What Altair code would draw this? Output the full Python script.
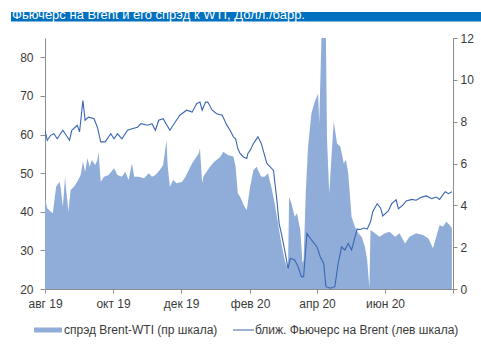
import altair as alt
import pandas as pd

# ---------------- data ----------------
brent_dates = [
    "2019-08-01", "2019-08-03", "2019-08-06", "2019-08-09", "2019-08-12", "2019-08-17",
    "2019-08-20", "2019-08-23", "2019-08-25", "2019-08-30", "2019-09-01", "2019-09-04",
    "2019-09-06", "2019-09-09", "2019-09-14", "2019-09-17", "2019-09-20", "2019-09-24",
    "2019-09-29", "2019-10-02", "2019-10-05", "2019-10-09", "2019-10-14", "2019-10-18",
    "2019-10-23", "2019-10-26", "2019-11-01", "2019-11-05", "2019-11-08", "2019-11-11",
    "2019-11-15", "2019-11-21", "2019-11-26", "2019-11-30", "2019-12-06", "2019-12-11",
    "2019-12-15", "2019-12-18", "2019-12-20", "2019-12-23", "2019-12-25", "2019-12-29",
    "2020-01-02", "2020-01-07", "2020-01-11", "2020-01-14", "2020-01-17", "2020-01-19",
    "2020-01-21", "2020-01-23", "2020-01-26", "2020-01-29", "2020-01-30", "2020-02-01",
    "2020-02-04", "2020-02-05", "2020-02-08", "2020-02-11", "2020-02-16", "2020-02-19",
    "2020-02-22", "2020-02-25", "2020-02-27", "2020-02-29", "2020-03-03", "2020-03-06",
    "2020-03-08", "2020-03-12", "2020-03-15", "2020-03-18", "2020-03-20", "2020-03-23",
    "2020-03-27", "2020-04-01", "2020-04-04", "2020-04-07", "2020-04-09", "2020-04-13",
    "2020-04-17", "2020-04-20", "2020-04-23", "2020-04-26", "2020-04-29", "2020-05-02",
    "2020-05-07", "2020-05-10", "2020-05-13", "2020-05-16", "2020-05-19", "2020-05-21",
    "2020-05-25", "2020-05-28", "2020-05-30", "2020-06-04", "2020-06-07", "2020-06-11",
    "2020-06-13", "2020-06-17", "2020-06-20", "2020-06-25", "2020-06-29", "2020-07-04",
    "2020-07-08", "2020-07-13", "2020-07-17", "2020-07-20", "2020-07-25", "2020-07-28",
    "2020-07-31",
]
brent_values = [
    61.1, 58.5, 59.8, 60.2, 58.9, 61.1,
    59.8, 58.5, 61.1, 62.4, 60.7, 68.8,
    63.7, 64.5, 64.1, 61.9, 58.1, 58.1,
    60.2, 58.9, 60.2, 58.9, 61.1, 61.5,
    61.9, 62.8, 62.4, 62.8, 61.1, 63.7,
    64.1, 61.1, 63.3, 65.0, 66.3, 65.8,
    68.0, 68.4, 66.3, 68.4, 68.4, 66.3,
    65.4, 65.0, 62.5, 61.1, 59.4, 58.9,
    56.3, 55.1, 54.2, 53.8, 55.1, 55.9,
    57.7, 58.1, 59.4, 57.7, 52.5, 51.6,
    50.7, 43.0, 37.0, 34.4, 30.1, 25.3,
    27.9, 27.5, 25.8, 23.2, 23.2, 34.4,
    32.7, 30.9, 28.3, 26.6, 20.6, 20.2,
    20.6, 26.6, 30.9, 30.1, 31.8, 30.1,
    35.5, 35.4, 35.8, 35.5, 37.4, 40.0,
    42.1, 41.0, 38.9, 40.2, 42.1, 43.1,
    40.8, 41.7, 42.8, 43.2, 43.0, 43.8,
    44.1, 43.4, 43.8, 43.2, 45.2, 44.7,
    45.2,
]

spread_dates = [
    "2019-08-01", "2019-08-03", "2019-08-06", "2019-08-08", "2019-08-11", "2019-08-14",
    "2019-08-15", "2019-08-17", "2019-08-19", "2019-08-20", "2019-08-22", "2019-08-24",
    "2019-08-27", "2019-08-30", "2019-09-02", "2019-09-04", "2019-09-06", "2019-09-08",
    "2019-09-10", "2019-09-12", "2019-09-15", "2019-09-17", "2019-09-18", "2019-09-20",
    "2019-09-23", "2019-09-27", "2019-10-02", "2019-10-05", "2019-10-09", "2019-10-12",
    "2019-10-15", "2019-10-18", "2019-10-20", "2019-10-24", "2019-10-29", "2019-11-02",
    "2019-11-05", "2019-11-08", "2019-11-12", "2019-11-15", "2019-11-18", "2019-11-19",
    "2019-11-21", "2019-11-24", "2019-11-27", "2019-12-02", "2019-12-05", "2019-12-08",
    "2019-12-11", "2019-12-14", "2019-12-17", "2019-12-18", "2019-12-20", "2019-12-21",
    "2019-12-24", "2019-12-27", "2019-12-31", "2020-01-05", "2020-01-08", "2020-01-12",
    "2020-01-17", "2020-01-19", "2020-01-21", "2020-01-23", "2020-01-27", "2020-01-29",
    "2020-02-01", "2020-02-04", "2020-02-07", "2020-02-08", "2020-02-11", "2020-02-14",
    "2020-02-17", "2020-02-20", "2020-02-23", "2020-02-26", "2020-02-29", "2020-03-03",
    "2020-03-06", "2020-03-07", "2020-03-09", "2020-03-12", "2020-03-14", "2020-03-17",
    "2020-03-19", "2020-03-20", "2020-03-22", "2020-03-24", "2020-03-27", "2020-03-30",
    "2020-04-02", "2020-04-03", "2020-04-05", "2020-04-09", "2020-04-10", "2020-04-12",
    "2020-04-14", "2020-04-16", "2020-04-19", "2020-04-22", "2020-04-25", "2020-04-27",
    "2020-04-29", "2020-05-02", "2020-05-05", "2020-05-08", "2020-05-11", "2020-05-14",
    "2020-05-16", "2020-05-18", "2020-05-19", "2020-05-23", "2020-05-27", "2020-06-01",
    "2020-06-05", "2020-06-10", "2020-06-14", "2020-06-19", "2020-06-23", "2020-06-29",
    "2020-07-05", "2020-07-10", "2020-07-14", "2020-07-17", "2020-07-20", "2020-07-23",
    "2020-07-26", "2020-07-29", "2020-07-31",
]
spread_values = [
    4.34, 3.86, 3.70, 3.62, 4.89, 5.13,
    4.89, 3.93, 5.37, 4.73, 3.70, 4.73,
    4.89, 5.13, 5.45, 6.09, 5.61, 6.25,
    5.85, 6.17, 5.93, 6.17, 6.56, 5.13,
    5.37, 5.45, 5.77, 5.45, 5.37, 5.61,
    5.21, 6.01, 5.37, 5.37, 5.29, 5.53,
    5.37, 5.45, 5.69, 5.93, 7.12, 5.93,
    4.89, 5.21, 5.05, 5.13, 5.37, 5.69,
    6.01, 6.25, 6.49, 6.73, 5.05, 5.37,
    5.61, 5.85, 6.09, 6.30, 6.56, 6.41,
    6.33, 5.85, 4.57, 4.41, 3.93, 3.78,
    4.89, 5.69, 5.85, 5.69, 5.37, 5.37,
    5.53, 4.89, 4.10, 3.14, 2.18, 1.39,
    0.91, 4.41, 4.10, 3.46, 3.62, 2.82,
    1.23, 1.39, 4.73, 6.80, 8.40, 8.95,
    9.35, 7.92, 12.0, 12.0, 7.12, 4.57,
    6.33, 8.00, 6.96, 6.80, 6.01, 6.17,
    5.53, 3.46, 2.98, 2.66, 2.50, 2.02,
    1.39, 0.05, 2.82, 2.66, 2.50, 2.66,
    2.74, 2.50, 2.66, 2.18, 2.50, 2.66,
    2.58, 2.42, 1.95, 2.50, 3.06, 2.98,
    3.22, 3.06, 2.90,
]

left_ticks = [20, 30, 40, 50, 60, 70, 80]
right_ticks = [0, 2, 4, 6, 8, 10, 12]
x_tick_dates = ["2019-08-01", "2019-10-01", "2019-12-01", "2020-02-01",
                "2020-04-01", "2020-06-01", "2020-08-01"]
month_names = ["янв", "фев", "мар", "апр", "май", "июн",
               "июл", "авг", "сен", "окт", "ноя", "дек"]

title_text = "Фьючерс на Brent и его спрэд к WTI, Долл./барр."
legend_spread = "спрэд Brent-WTI  (пр шкала)"
legend_brent = "ближ. Фьючерс на Brent (лев шкала)"

# ---------------- styling ----------------
FONT = "Liberation Sans"
AREA_COLOR = "#8FADD8"
LINE_COLOR = "#3A66B4"
AXIS_COLOR = "#8C8C8C"
TEXT_COLOR = "#3A3A3A"

brent_df = pd.DataFrame({"date": brent_dates, "brent": brent_values})
spread_df = pd.DataFrame({"date": spread_dates, "spread": spread_values})

tick_ms = [int(pd.Timestamp(d, tz="UTC").value // 10**6) for d in x_tick_dates]
months_js = "[" + ",".join("'" + m + "'" for m in month_names) + "]"
label_expr = (
    "(utcyear(datum.value) == 2020 && utcmonth(datum.value) == 7) ? '' : "
    + months_js + "[utcmonth(datum.value)] + ' ' + utcFormat(datum.value, '%y')"
)

x_scale = alt.Scale(type="utc", domain=[tick_ms[0], tick_ms[-1]], nice=False)
x_axis = alt.Axis(
    values=tick_ms, labelExpr=label_expr, title=None, grid=False,
    domainColor=AXIS_COLOR, tickColor=AXIS_COLOR, tickSize=4,
    labelFont=FONT, labelFontSize=12, labelColor=TEXT_COLOR, labelPadding=5,
    labelFlush=False, labelOverlap=False,
)

area = alt.Chart(spread_df).mark_area(color=AREA_COLOR, opacity=1, clip=True).encode(
    x=alt.X("date:T", scale=x_scale, axis=x_axis),
    y=alt.Y("spread:Q", scale=alt.Scale(domain=[0, 12], nice=False),
            axis=alt.Axis(orient="right", values=right_ticks, title=None, grid=False,
                          domainColor=AXIS_COLOR, tickColor=AXIS_COLOR, tickSize=4,
                          labelFont=FONT, labelFontSize=12, labelColor=TEXT_COLOR,
                          labelPadding=3)),
)

line = alt.Chart(brent_df).mark_line(color=LINE_COLOR, strokeWidth=1.1, clip=True).encode(
    x=alt.X("date:T", scale=x_scale, axis=x_axis),
    y=alt.Y("brent:Q", scale=alt.Scale(domain=[20, 85], nice=False, zero=False),
            axis=alt.Axis(orient="left", values=left_ticks, title=None, grid=False,
                          domainColor=AXIS_COLOR, tickColor=AXIS_COLOR, tickSize=5,
                          labelFont=FONT, labelFontSize=12, labelColor=TEXT_COLOR,
                          labelPadding=7)),
)

one = pd.DataFrame({"k": [0]})

title_bar = alt.Chart(one).mark_rect(color="#0070C0").encode(
    x=alt.value(-34), x2=alt.value(436), y=alt.value(-26), y2=alt.value(-16.5)
)
title_txt = alt.Chart(one).mark_text(
    align="left", baseline="alphabetic", font=FONT, fontSize=13, color="white"
).encode(x=alt.value(-33), y=alt.value(-18.6), text=alt.value(title_text))
title_mask = alt.Chart(one).mark_rect(color="white").encode(
    x=alt.value(-45), x2=alt.value(436), y=alt.value(-38), y2=alt.value(-26)
)

leg_rect = alt.Chart(one).mark_rect(color=AREA_COLOR).encode(
    x=alt.value(-11), x2=alt.value(17), y=alt.value(289.5), y2=alt.value(294.5)
)
leg_txt1 = alt.Chart(one).mark_text(
    align="left", baseline="alphabetic", font=FONT, fontSize=12, color=TEXT_COLOR
).encode(x=alt.value(19), y=alt.value(296), text=alt.value(legend_spread))
leg_rule = alt.Chart(one).mark_rule(color=LINE_COLOR, strokeWidth=1).encode(
    x=alt.value(188), x2=alt.value(209), y=alt.value(292)
)
leg_txt2 = alt.Chart(one).mark_text(
    align="left", baseline="alphabetic", font=FONT, fontSize=12, color=TEXT_COLOR
).encode(x=alt.value(210), y=alt.value(296), text=alt.value(legend_brent))

chart = (
    alt.layer(area, line, title_bar, title_txt, title_mask,
              leg_rect, leg_txt1, leg_rule, leg_txt2)
    .resolve_scale(y="independent")
    .properties(
        width=408, height=251,
        padding={"left": 45, "top": 38, "right": 28, "bottom": 64},
        autosize=alt.AutoSizeParams(type="none"),
        background="white",
    )
    .configure_view(stroke=None)
)

chart.save("out.html", embed_options={"renderer": "svg", "actions": False})
